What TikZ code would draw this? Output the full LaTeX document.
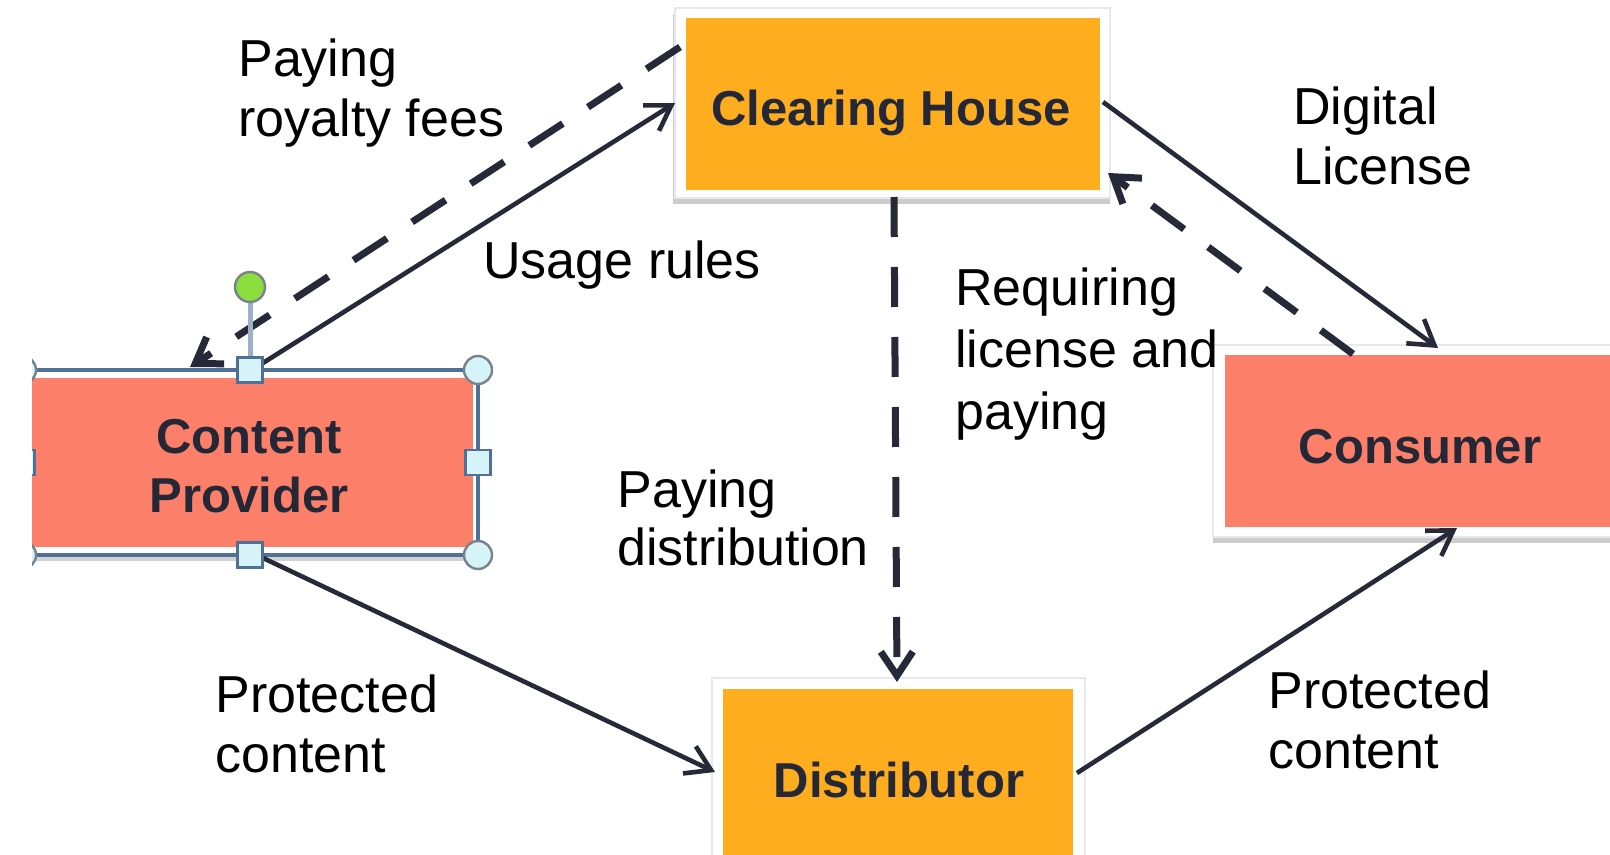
\documentclass[tikz,border=0pt]{standalone}
\usepackage{fontspec}
\setmainfont{Liberation Sans}
\usetikzlibrary{arrows.meta,calc}
\definecolor{chorange}{RGB}{253,173,30}
\definecolor{salmon}{RGB}{252,127,106}
\definecolor{darktext}{RGB}{36,40,54}
\definecolor{arrowdark}{RGB}{38,42,56}
\definecolor{selblue}{RGB}{79,113,151}
\definecolor{handlefill}{RGB}{214,243,248}
\definecolor{handlegray}{RGB}{120,130,140}
\definecolor{rotline}{RGB}{157,176,200}
\definecolor{rotgreen}{RGB}{140,222,60}
\begin{document}
\begin{tikzpicture}[x=0.5pt,y=-0.5pt,
  frame/.style={draw=gray!18, line width=0.6pt, fill=white, inner sep=0pt, outer sep=0pt},
  fillbox/.style={inner sep=0pt, outer sep=0pt},
  lbl/.style={font=\fontsize{26}{30}\selectfont, align=left, anchor=base west, inner sep=0pt, text=black},
  boxlbl/.style={font=\fontsize{24.5}{29.5}\selectfont\bfseries, align=center, anchor=base, inner sep=0pt, text=darktext},
  solidarrow/.style={draw=arrowdark, line width=2.3pt, -{Straight Barb[length=12pt,width=15pt]}},
  dasharrow/.style={draw=arrowdark, line width=3.5pt, dash pattern=on 20pt off 15pt, -{Straight Barb[length=12pt,width=16pt]}},
  sqhandle/.style={draw=selblue, line width=1.2pt, fill=handlefill, minimum size=12.5pt, inner sep=0pt},
  cirhandle/.style={circle, draw=handlegray, line width=1.2pt, fill=handlefill, minimum size=14pt, inner sep=0pt},
]
\useasboundingbox (0,0) rectangle (1610,855);
\fill[white] (0,0) rectangle (1610,855);

% shadows
\fill[gray!40] (673,14) rectangle (1110,204);
\fill[gray!40] (1213,351) rectangle (1640,543);
\fill[gray!40] (712,684) rectangle (1085,900);
\fill[gray!35] (22,376) rectangle (478,561);

% Clearing House
\node[frame, minimum width=217.5pt, minimum height=95pt] (chf) at (892.5,103) {};
\node[fillbox, fill=chorange, minimum width=207pt, minimum height=86pt] (ch) at (893,104) {};
% Consumer
\node[frame, minimum width=207pt, minimum height=96pt] (csf) at (1420,441) {};
\node[fillbox, fill=salmon, minimum width=195pt, minimum height=86pt] (cs) at (1420,441) {};
% Distributor
\node[frame, minimum width=186.5pt, minimum height=99pt] (dsf) at (898.5,777) {};
\node[fillbox, fill=chorange, minimum width=175pt, minimum height=88pt] (ds) at (898,777) {};
% Content Provider (selected)
\node[fillbox, fill=white, draw=selblue, line width=2pt, minimum width=228pt, minimum height=92.5pt] (cpf) at (250,462.5) {};
\node[fillbox, fill=salmon, minimum width=223pt, minimum height=84.5pt] (cp) at (250,462.5) {};

% connectors
\draw[solidarrow] ($(cpf.north)+(13,-7)$) -- (chf.west);
\draw[dasharrow] ($(chf.west)+(5,-56)$) -- ($(cpf.north)+(-60,-3)$);
\draw[solidarrow] ($(ch.east)+(3,-2)$) -- ($(csf.north)+(18,3)$);
\draw[dasharrow] ($(cs.north)+(-67,-1)$) -- ($(ch.south east)+(8,-17)$);
\draw[dasharrow] ($(ch.south)+(1,7)$) -- ($(ds.north)+(-1,-7)$);
\draw[solidarrow] ($(cpf.south)+(13,3)$) -- ($(dsf.west)+(3,-5)$);
\draw[solidarrow] ($(ds.east)+(4,-4)$) -- ($(cs.south)+(37,1)$);

% box labels (base = last line baseline)
\node[boxlbl] (chl) at (891,126) {Clearing House};
\node[boxlbl] (cpl) at (249,512) {Content\\Provider};
\node[boxlbl] (csl) at (1420,463) {Consumer};
\node[boxlbl] (dsl) at (899,797) {Distributor};

% connector labels (base = last line baseline)
\node[lbl] (t1) at (238,137) {Paying\\royalty fees};
\node[lbl] (t2) at (483,279) {Usage rules};
\node[lbl] (t3) at (1293,185) {Digital\\License};
\node[lbl, font=\fontsize{26}{30.8}\selectfont] (t4) at (955,429) {Requiring\\license and\\paying};
\node[lbl, font=\fontsize{26}{29}\selectfont] (t5) at (617,565) {Paying\\distribution};
\node[lbl] (t6) at (215,772) {Protected\\content};
\node[lbl] (t7) at (1268,768) {Protected\\content};

% selection handles
\draw[rotline, line width=2.5pt] (250,302) -- (250,358);
\node[circle, draw=handlegray, line width=1.2pt, fill=rotgreen, minimum size=15pt, inner sep=0pt] (rot) at (250,287) {};
\node[sqhandle] (h1) at (cpf.north) {};
\node[sqhandle] (h2) at (cpf.south) {};
\node[sqhandle] (h3) at (cpf.east) {};
\node[sqhandle] (h4) at (cpf.west) {};
\node[cirhandle] (h5) at (cpf.north east) {};
\node[cirhandle] (h6) at (cpf.south east) {};
\node[cirhandle] (h7) at (cpf.north west) {};
\node[cirhandle] (h8) at (cpf.south west) {};

% left edge cut of the screenshot
\fill[white] (0,0) rectangle (32,855);
\end{tikzpicture}
\end{document}
